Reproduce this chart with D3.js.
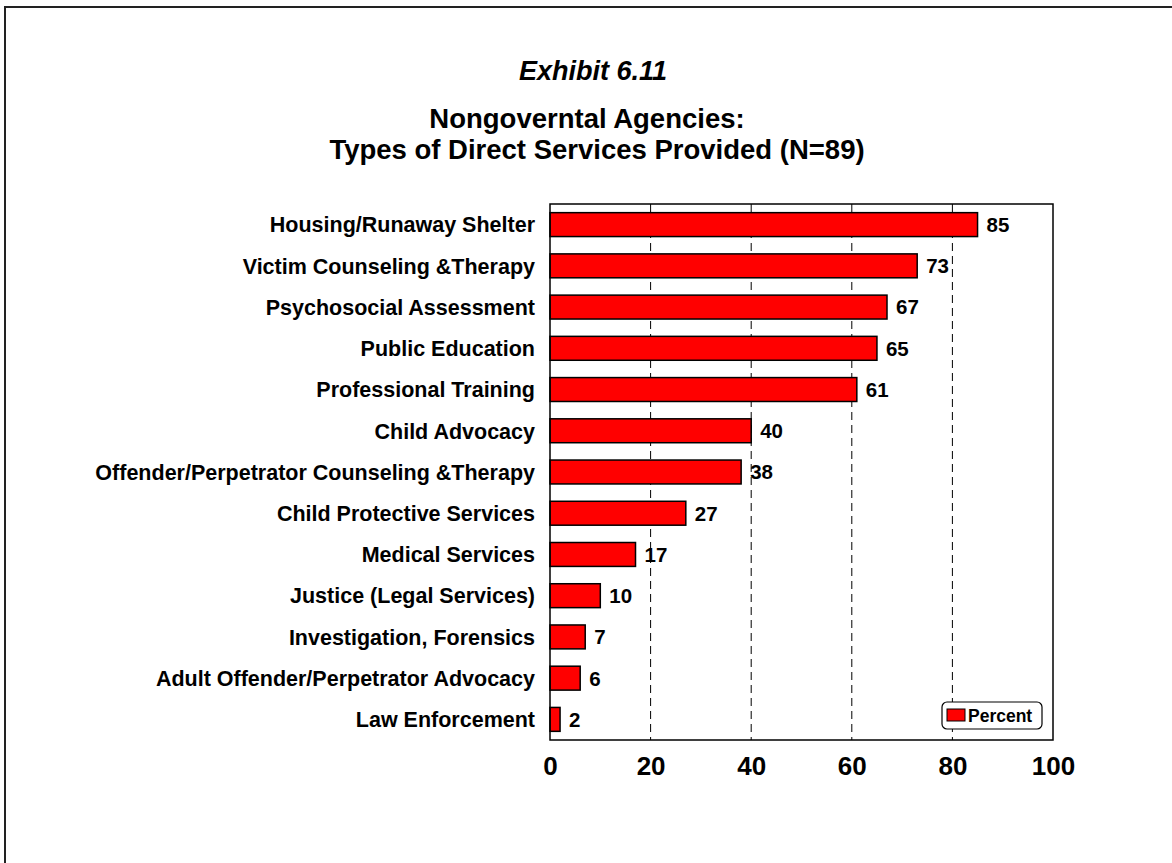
<!DOCTYPE html>
<html>
<head>
<meta charset="utf-8">
<script src="https://cdn.jsdelivr.net/npm/d3@7"></script>
<style>
  body { margin: 0; background: #fff; }
  text { font-family: "Liberation Sans", Arial, sans-serif; font-weight: bold; fill: #000; }
</style>
</head>
<body>
<script>
const categories = [
  "Housing/Runaway Shelter",
  "Victim Counseling &Therapy",
  "Psychosocial Assessment",
  "Public Education",
  "Professional Training",
  "Child Advocacy",
  "Offender/Perpetrator Counseling &Therapy",
  "Child Protective Services",
  "Medical Services",
  "Justice (Legal Services)",
  "Investigation, Forensics",
  "Adult Offender/Perpetrator Advocacy",
  "Law Enforcement"
];
const percents = [85, 73, 67, 65, 61, 40, 38, 27, 17, 10, 7, 6, 2];
const xTicks = [0, 20, 40, 60, 80, 100];
const gridTicks = [20, 40, 60, 80];
const seriesName = "Percent";

window.onload = function() {
  const svg = d3.select('body').append('svg')
    .attr('width', 1172)
    .attr('height', 863);

  // page frame
  svg.append('rect')
    .attr('x', 5).attr('y', 7)
    .attr('width', 1200).attr('height', 900)
    .attr('fill', 'none')
    .attr('stroke', '#222')
    .attr('stroke-width', 2);

  const left = 550, right = 1053, top = 204, bottom = 740;

  const x = d3.scaleLinear().domain([0, 100]).range([left, right]);
  const y = d3.scaleBand().domain(categories).range([top, bottom]).paddingInner(0.42).paddingOuter(0.21);

  // titles
  svg.append('text').text('Exhibit 6.11')
    .attr('x', 593).attr('y', 80)
    .attr('text-anchor', 'middle')
    .style('font-style', 'italic')
    .style('font-size', '27px');
  svg.append('text').text('Nongoverntal Agencies:')
    .attr('x', 587).attr('y', 128)
    .attr('text-anchor', 'middle')
    .style('font-size', '27.5px');
  svg.append('text').text('Types of Direct Services Provided (N=89)')
    .attr('x', 597).attr('y', 159)
    .attr('text-anchor', 'middle')
    .style('font-size', '27.5px');

  // dashed grid
  svg.append('g').selectAll('line')
    .data(gridTicks)
    .join('line')
    .attr('x1', d => x(d)).attr('x2', d => x(d))
    .attr('y1', top).attr('y2', bottom)
    .attr('stroke', '#000')
    .attr('stroke-width', 1)
    .attr('stroke-dasharray', '8,5');

  // bars
  svg.append('g').selectAll('rect')
    .data(percents)
    .join('rect')
    .attr('x', x(0))
    .attr('y', (d, i) => y(categories[i]))
    .attr('width', d => x(d) - x(0))
    .attr('height', y.bandwidth())
    .attr('fill', '#ff0000')
    .attr('stroke', '#000')
    .attr('stroke-width', 1.5);

  // value labels
  svg.append('g').selectAll('text')
    .data(percents)
    .join('text')
    .text(d => d)
    .attr('x', d => x(d) + 9)
    .attr('y', (d, i) => y(categories[i]) + y.bandwidth() / 2)
    .attr('dy', '0.36em')
    .style('font-size', '20.5px');

  // category labels
  svg.append('g').selectAll('text')
    .data(categories)
    .join('text')
    .text(d => d)
    .attr('x', 535)
    .attr('y', d => y(d) + y.bandwidth() / 2)
    .attr('dy', '0.36em')
    .attr('text-anchor', 'end')
    .style('font-size', '21.5px');

  // plot frame
  svg.append('rect')
    .attr('x', left).attr('y', top)
    .attr('width', right - left).attr('height', bottom - top)
    .attr('fill', 'none')
    .attr('stroke', '#000')
    .attr('stroke-width', 1.5);

  // x axis labels
  const xAxis = d3.axisBottom(x).tickValues(xTicks).tickSize(0).tickPadding(17);
  const ax = svg.append('g')
    .attr('transform', `translate(0, ${bottom})`)
    .call(xAxis);
  ax.select('.domain').remove();
  ax.selectAll('text')
    .style('font-size', '26px')
    .style('font-family', '"Liberation Sans", Arial, sans-serif')
    .style('font-weight', 'bold')
    .attr('fill', '#000');

  // legend
  const lg = svg.append('g').attr('transform', 'translate(942, 702)');
  lg.append('rect')
    .attr('width', 100).attr('height', 27)
    .attr('rx', 5).attr('ry', 5)
    .attr('fill', '#fff')
    .attr('stroke', '#000')
    .attr('stroke-width', 1.2);
  lg.append('rect')
    .attr('x', 5).attr('y', 7)
    .attr('width', 18).attr('height', 12)
    .attr('fill', '#ff0000')
    .attr('stroke', '#000')
    .attr('stroke-width', 1);
  lg.append('text').text(seriesName)
    .attr('x', 26).attr('y', 20)
    .style('font-size', '17.5px');
};
</script>
</body>
</html>
